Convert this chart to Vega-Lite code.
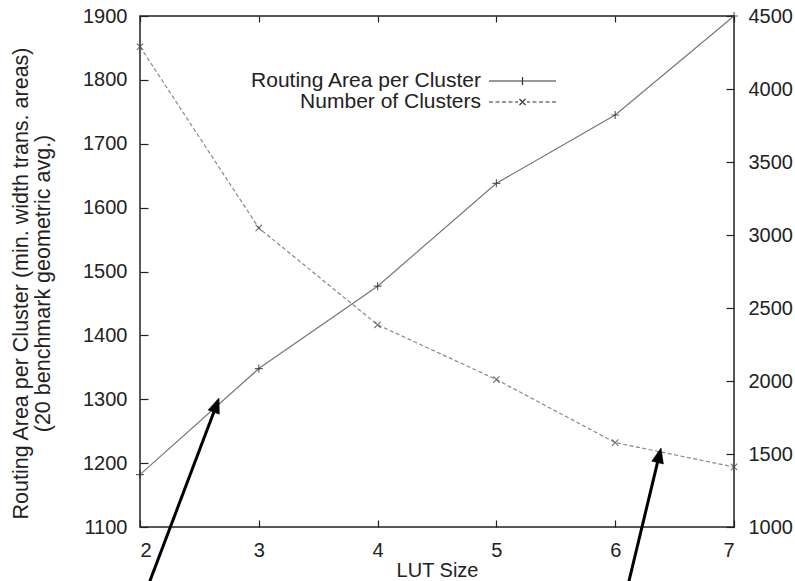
{
  "$schema": "https://vega.github.io/schema/vega-lite/v6.json",
  "width": 594,
  "height": 511,
  "autosize": {"type": "none"},
  "padding": {"left": 140, "top": 16, "right": 61, "bottom": 54},
  "background": "white",
  "config": {
    "font": "Liberation Sans",
    "view": {"stroke": "#222", "strokeWidth": 1.5},
    "axis": {
      "grid": false,
      "domain": false,
      "labelFont": "Liberation Sans",
      "labelFontSize": 20,
      "labelColor": "#222",
      "titleFont": "Liberation Sans",
      "titleFontSize": 20,
      "titleFontWeight": "normal",
      "titleColor": "#222",
      "tickColor": "#222",
      "tickWidth": 1.2,
      "format": "d"
    },
    "legend": {"labelFont": "Liberation Sans", "labelFontSize": 21, "labelColor": "#222", "labelLimit": 500}
  },
  "datasets": {
    "routing": [
      {"lut": 2, "value": 1182, "series": "Routing Area per Cluster"},
      {"lut": 3, "value": 1348, "series": "Routing Area per Cluster"},
      {"lut": 4, "value": 1477, "series": "Routing Area per Cluster"},
      {"lut": 5, "value": 1638, "series": "Routing Area per Cluster"},
      {"lut": 6, "value": 1745, "series": "Routing Area per Cluster"},
      {"lut": 7, "value": 1900, "series": "Routing Area per Cluster"}
    ],
    "clusters": [
      {"lut": 2, "value": 4290, "series": "Number of Clusters"},
      {"lut": 3, "value": 3048, "series": "Number of Clusters"},
      {"lut": 4, "value": 2385, "series": "Number of Clusters"},
      {"lut": 5, "value": 2010, "series": "Number of Clusters"},
      {"lut": 6, "value": 1578, "series": "Number of Clusters"},
      {"lut": 7, "value": 1411, "series": "Number of Clusters"}
    ],
    "shafts": [
      {"arrow": "A", "lut": 2.052, "value": 1000, "lut2": 2.636, "value2": 1287},
      {"arrow": "B", "lut": 6.096, "value": 1000, "lut2": 6.366, "value2": 1208.5}
    ],
    "heads": [
      {"arrow": "A", "lut": 2.665, "value": 1302},
      {"arrow": "B", "lut": 6.386, "value": 1223.7}
    ]
  },
  "layer": [
    {
      "layer": [
        {
          "data": {"name": "clusters"},
          "mark": {"type": "line", "stroke": "#888", "strokeWidth": 1.2, "strokeDash": [4, 2.5]},
          "encoding": {
            "x": {"field": "lut", "type": "quantitative", "scale": {"domain": [2, 7], "nice": false, "zero": false},
              "axis": {"orient": "top", "labels": false, "title": null, "values": [2, 3, 4, 5, 6, 7], "tickSize": -6}},
            "y": {"field": "value", "type": "quantitative", "scale": {"domain": [1000, 4500], "nice": false, "zero": false},
              "axis": {"orient": "right", "title": null, "values": [1000, 1500, 2000, 2500, 3000, 3500, 4000, 4500], "tickSize": -8, "labelPadding": 22}}
          }
        },
        {
          "data": {"name": "clusters"},
          "mark": {"type": "point", "shape": "M-0.8,-0.8L0.8,0.8M-0.8,0.8L0.8,-0.8", "filled": false, "stroke": "#444", "strokeWidth": 1.2, "size": 64},
          "encoding": {
            "x": {"field": "lut", "type": "quantitative"},
            "y": {"field": "value", "type": "quantitative", "scale": {"domain": [1000, 4500], "nice": false, "zero": false}}
          }
        }
      ]
    },
    {
      "layer": [
        {
          "data": {"name": "routing"},
          "mark": {"type": "line", "stroke": "#777", "strokeWidth": 1.2},
          "encoding": {
            "x": {"field": "lut", "type": "quantitative", "scale": {"domain": [2, 7], "nice": false, "zero": false},
              "axis": {"orient": "bottom", "title": "LUT Size", "values": [2, 3, 4, 5, 6, 7], "tickSize": -7, "labelPadding": 20, "titleBaseline": "alphabetic", "titleY": 49}},
            "y": {"field": "value", "type": "quantitative", "scale": {"domain": [1100, 1900], "nice": false, "zero": false},
              "axis": {"orient": "left", "title": ["Routing Area per Cluster (min. width trans. areas)", "(20 benchmark geometric avg.)"],
                "values": [1100, 1200, 1300, 1400, 1500, 1600, 1700, 1800, 1900], "tickSize": -8, "labelPadding": 21,
                "titleFontSize": 21.5, "titleLineHeight": 22, "titleBaseline": "bottom", "titleX": -108, "titleY": 267, "titleAngle": 270}}
          }
        },
        {
          "data": {"name": "routing"},
          "mark": {"type": "point", "shape": "M-1,0H1M0,-1V1", "filled": false, "stroke": "#222", "strokeWidth": 1.2, "size": 64},
          "encoding": {
            "x": {"field": "lut", "type": "quantitative"},
            "y": {"field": "value", "type": "quantitative", "scale": {"domain": [1100, 1900], "nice": false, "zero": false}}
          }
        },
        {
          "data": {"name": "routing"},
          "transform": [{"filter": "false"}],
          "mark": {"type": "point", "filled": false, "stroke": "#333", "strokeWidth": 1.2, "size": 400},
          "encoding": {
            "x": {"field": "lut", "type": "quantitative"},
            "y": {"field": "value", "type": "quantitative", "scale": {"domain": [1100, 1900], "nice": false, "zero": false}},
            "shape": {"field": "series", "type": "nominal",
              "scale": {"domain": ["Routing Area per Cluster", "Number of Clusters"],
                "range": ["M-3.35,0H3.35M0,-0.4V0.4", "M-3.35,0H-2.95M-2.7,0H-2.3M-2.05,0H-1.65M-1.4,0H-1M-0.75,0H-0.45M0.45,0H0.75M1,0H1.4M1.65,0H2.05M2.3,0H2.7M2.95,0H3.35M-0.3,-0.3L0.3,0.3M-0.3,0.3L0.3,-0.3"]},
              "legend": {
                "title": null, "orient": "none", "legendX": 371.5, "legendY": 54,
                "symbolSize": 400, "symbolStrokeWidth": 1.2, "symbolStrokeColor": "#333", "symbolFillColor": "transparent", "symbolOpacity": 1,
                "rowPadding": -2, "labelAlign": "right", "labelOffset": -52.5, "labelBaseline": "middle"
              }}
          }
        },
        {
          "data": {"name": "shafts"},
          "mark": {"type": "rule", "stroke": "#000", "strokeWidth": 3, "strokeCap": "butt"},
          "encoding": {
            "x": {"field": "lut", "type": "quantitative"},
            "y": {"field": "value", "type": "quantitative", "scale": {"domain": [1100, 1900], "nice": false, "zero": false}},
            "x2": {"field": "lut2"},
            "y2": {"field": "value2"}
          }
        },
        {
          "data": {"name": "heads"},
          "transform": [{"filter": "datum.arrow === 'A'"}],
          "mark": {"type": "point", "shape": "M0,0L-0.8,2L0.8,2Z", "filled": true, "fill": "#000", "stroke": "#000", "strokeWidth": 0.5, "opacity": 1, "size": 225, "angle": 20.7},
          "encoding": {
            "x": {"field": "lut", "type": "quantitative"},
            "y": {"field": "value", "type": "quantitative", "scale": {"domain": [1100, 1900], "nice": false, "zero": false}}
          }
        },
        {
          "data": {"name": "heads"},
          "transform": [{"filter": "datum.arrow === 'B'"}],
          "mark": {"type": "point", "shape": "M0,0L-0.8,2L0.8,2Z", "filled": true, "fill": "#000", "stroke": "#000", "strokeWidth": 0.5, "opacity": 1, "size": 225, "angle": 13.5},
          "encoding": {
            "x": {"field": "lut", "type": "quantitative"},
            "y": {"field": "value", "type": "quantitative", "scale": {"domain": [1100, 1900], "nice": false, "zero": false}}
          }
        }
      ]
    }
  ],
  "resolve": {"scale": {"y": "independent"}, "axis": {"x": "independent", "y": "independent"}}
}
